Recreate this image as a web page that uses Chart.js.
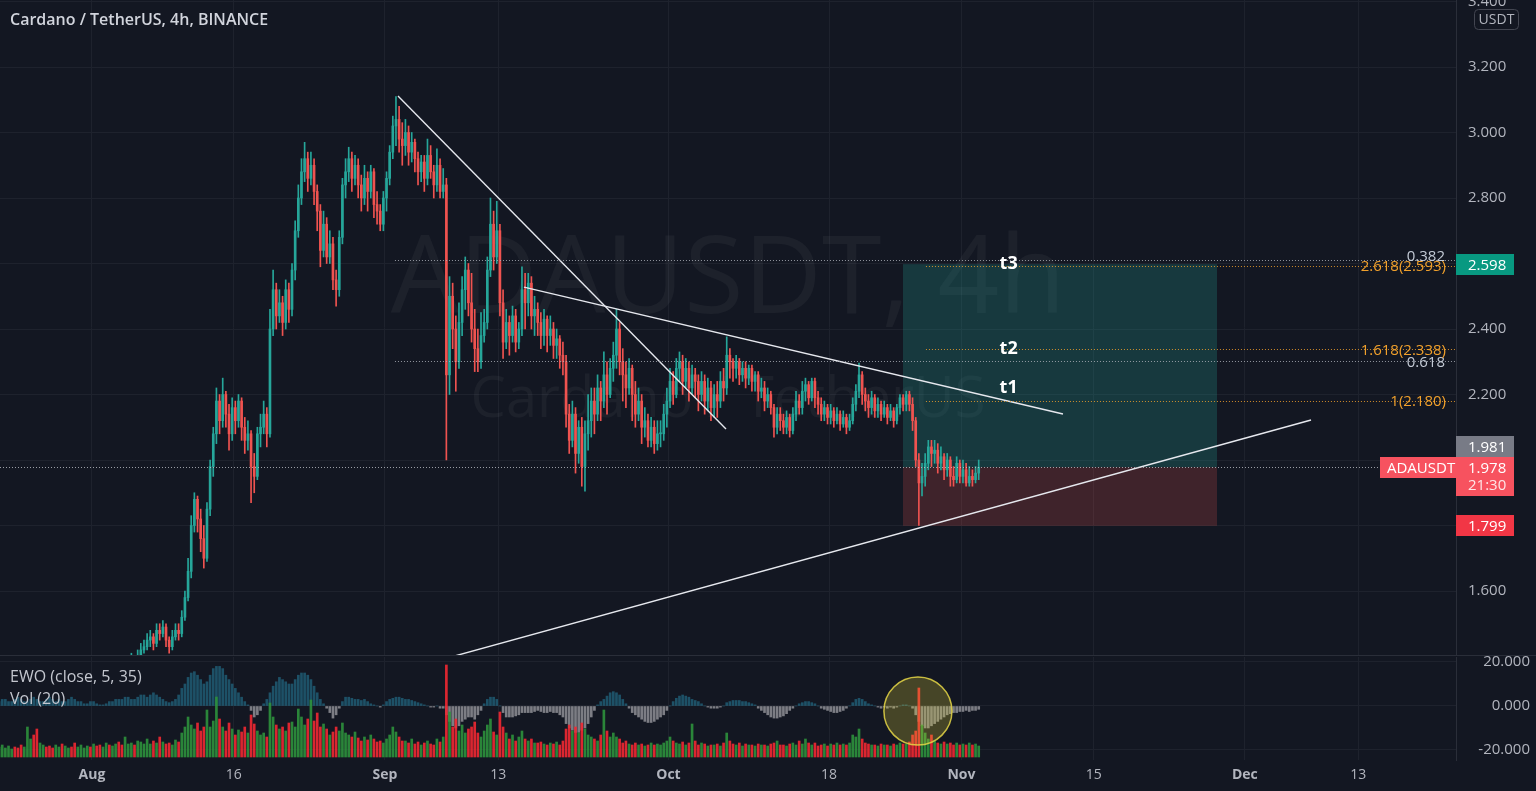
<!DOCTYPE html>
<html><head><meta charset="utf-8">
<script src="https://cdn.jsdelivr.net/npm/chart.js"></script>
<style>
html,body{margin:0;padding:0;background:#131722;width:1536px;height:791px;overflow:hidden;font-family:"Open Sans",sans-serif}
canvas{position:absolute;left:0}
#main{top:0}
#sub{top:655px}
.txt{position:absolute;white-space:nowrap;z-index:5}
#title{left:10px;top:8px;color:#d1d4dc;font:600 16px "Open Sans"}
#leg1{left:10px;top:665px;color:#c3c6ce;font:16px "Open Sans"}
#leg2{left:10px;top:687px;color:#c3c6ce;font:16px "Open Sans"}
</style></head>
<body>
<canvas id="main" width="1536" height="655"></canvas>
<canvas id="sub" width="1536" height="136"></canvas>
<div class="txt" id="title">Cardano / TetherUS, 4h, BINANCE</div>
<div class="txt" id="leg1">EWO (close, 5, 35)</div>
<div class="txt" id="leg2">Vol (20)</div>
<script>
// ---------------- DATA (days counted from Aug 1 2021 00:00, 3 bars per day) ----------------
const startDay = -10;          // Jul 22 2021
const barsPerDay = 3;
const firstOpen = 1.17;
const close = [
 1.18,1.20,1.21, 1.22,1.24,1.23, 1.22,1.21,1.24, 1.25,1.27,1.26,
 1.24,1.28,1.30, 1.29,1.27,1.26, 1.27,1.29,1.28, 1.30,1.31,1.29,
 1.28,1.30,1.31, 1.32,1.33,1.32, 1.33,1.31,1.30, 1.32,1.35,1.33,
 1.34,1.36,1.35, 1.33,1.36,1.38, 1.39,1.37,1.40, 1.42,1.43,1.45,
 1.46,1.44,1.48, 1.47,1.49,1.45, 1.43,1.46,1.48, 1.47,1.52,1.58,
 1.66,1.80,1.88, 1.82,1.76,1.70, 1.85,1.98,2.08, 2.18,2.12,2.20,
 2.14,2.08,2.16, 2.12,2.18,2.10, 2.06,2.08,1.98, 1.95,2.08,2.10,
 2.14,2.08,2.40, 2.52,2.44,2.48, 2.42,2.52,2.46, 2.58,2.70,2.80,
 2.88,2.92,2.86, 2.90,2.82,2.76, 2.64,2.72,2.62, 2.66,2.55,2.52,
 2.68,2.84,2.88, 2.92,2.86,2.90, 2.84,2.80,2.86, 2.82,2.88,2.78,
 2.76,2.72,2.80, 2.86,2.94,3.02, 3.04,2.98,2.96, 3.00,2.94,2.97,
 2.92,2.88,2.91, 2.86,2.93,2.88, 2.84,2.90,2.82, 2.84,2.26,2.50,
 2.40,2.30,2.42, 2.52,2.58,2.48, 2.40,2.34,2.30, 2.38,2.42,2.58,
 2.72,2.62,2.70, 2.48,2.36,2.42, 2.38,2.44,2.36, 2.40,2.52,2.48,
 2.54,2.44,2.46, 2.42,2.38,2.43, 2.38,2.40,2.35, 2.37,2.32,2.30,
 2.14,2.06,2.14, 2.02,2.10,1.98, 2.08,2.12,2.18, 2.14,2.22,2.18,
 2.26,2.20,2.28, 2.32,2.40,2.30, 2.26,2.22,2.28, 2.20,2.14,2.18,
 2.10,2.12,2.06, 2.10,2.05,2.08, 2.08,2.14,2.18, 2.24,2.20,2.28,
 2.30,2.24,2.28, 2.22,2.26,2.24, 2.20,2.24,2.18, 2.22,2.16,2.20,
 2.18,2.24,2.22, 2.32,2.30,2.28, 2.30,2.26,2.28, 2.25,2.28,2.24,
 2.26,2.21,2.22, 2.18,2.20,2.16, 2.10,2.14,2.12, 2.10,2.13,2.09,
 2.14,2.18,2.16, 2.21,2.23,2.19, 2.24,2.19,2.17, 2.14,2.16,2.13,
 2.15,2.12,2.14, 2.11,2.13,2.10, 2.12,2.17,2.21, 2.26,2.20,2.18,
 2.16,2.19,2.15, 2.17,2.14,2.16, 2.13,2.15,2.12, 2.16,2.19,2.17,
 2.20,2.17,2.12, 2.00,1.93,1.95, 1.99,2.04,2.02, 2.03,1.99,2.01,
 1.97,2.00,1.95, 1.94,1.99,1.95, 1.97,1.93,1.95, 1.94,1.96,1.978
];
const high = [
 1.19,1.21,1.22, 1.23,1.25,1.25, 1.24,1.23,1.25, 1.26,1.28,1.28,
 1.27,1.29,1.31, 1.31,1.30,1.28, 1.28,1.30,1.30, 1.31,1.33,1.32,
 1.30,1.31,1.33, 1.34,1.35,1.34, 1.35,1.34,1.32, 1.33,1.36,1.36,
 1.36,1.37,1.38, 1.36,1.37,1.39, 1.41,1.40,1.42, 1.44,1.45,1.47,
 1.48,1.47,1.50, 1.50,1.51,1.50, 1.46,1.48,1.50, 1.50,1.54,1.60,
 1.70,1.83,1.90, 1.89,1.85,1.80, 1.87,2.00,2.10, 2.22,2.20,2.25,
 2.21,2.17,2.19, 2.18,2.20,2.19, 2.13,2.12,2.09, 2.02,2.10,2.14,
 2.18,2.16,2.46, 2.58,2.54,2.52, 2.50,2.55,2.54, 2.60,2.73,2.84,
 2.92,2.97,2.94, 2.94,2.92,2.84, 2.78,2.76,2.74, 2.70,2.68,2.58,
 2.70,2.86,2.92, 2.955,2.94,2.93, 2.92,2.87,2.90, 2.88,2.90,2.89,
 2.82,2.78,2.82, 2.88,2.96,3.05, 3.11,3.08,3.03, 3.04,3.02,3.00,
 2.98,2.94,2.93, 2.93,2.98,2.96, 2.90,2.95,2.92, 2.89,2.86,2.56,
 2.54,2.44,2.48, 2.56,2.62,2.60, 2.57,2.46,2.40, 2.45,2.46,2.62,
 2.80,2.76,2.79, 2.72,2.52,2.46, 2.44,2.47,2.46, 2.42,2.59,2.57,
 2.57,2.56,2.50, 2.48,2.45,2.46, 2.44,2.44,2.42, 2.40,2.38,2.36,
 2.32,2.17,2.18, 2.16,2.12,2.13, 2.12,2.20,2.22, 2.22,2.26,2.24,
 2.33,2.30,2.31, 2.36,2.46,2.42, 2.34,2.30,2.31, 2.29,2.24,2.22,
 2.20,2.16,2.14, 2.13,2.12,2.12, 2.12,2.17,2.22, 2.28,2.27,2.31,
 2.33,2.32,2.31, 2.30,2.29,2.28, 2.26,2.27,2.26, 2.25,2.24,2.23,
 2.24,2.27,2.28, 2.376,2.34,2.31, 2.32,2.31,2.30, 2.30,2.29,2.29,
 2.27,2.27,2.25, 2.24,2.22,2.21, 2.17,2.16,2.16, 2.14,2.15,2.14,
 2.16,2.21,2.20, 2.24,2.25,2.24, 2.25,2.25,2.21, 2.19,2.18,2.17,
 2.17,2.16,2.16, 2.15,2.15,2.14, 2.14,2.19,2.23, 2.296,2.27,2.22,
 2.20,2.21,2.20, 2.19,2.18,2.18, 2.17,2.17,2.16, 2.17,2.20,2.20,
 2.21,2.21,2.19, 2.13,2.02,1.99, 2.02,2.06,2.06, 2.06,2.05,2.04,
 2.02,2.02,2.01, 1.98,2.01,2.00, 2.00,1.99,1.98, 1.97,1.98,2.00
];
const low = [
 1.16,1.17,1.19, 1.20,1.21,1.22, 1.21,1.20,1.20, 1.23,1.24,1.25,
 1.23,1.23,1.27, 1.28,1.26,1.25, 1.25,1.26,1.27, 1.27,1.29,1.28,
 1.27,1.27,1.29, 1.30,1.31,1.31, 1.31,1.30,1.28, 1.29,1.31,1.32,
 1.32,1.33,1.34, 1.32,1.32,1.35, 1.37,1.36,1.36, 1.39,1.41,1.42,
 1.43,1.42,1.43, 1.45,1.46,1.43, 1.41,1.42,1.45, 1.45,1.46,1.51,
 1.57,1.64,1.78, 1.78,1.72,1.67, 1.69,1.83,1.95, 2.05,2.08,2.10,
 2.10,2.03,2.06, 2.08,2.10,2.06, 2.02,2.03,1.87, 1.90,1.94,2.04,
 2.08,2.04,2.07, 2.38,2.40,2.42, 2.38,2.40,2.42, 2.44,2.55,2.68,
 2.78,2.85,2.82, 2.84,2.78,2.70, 2.59,2.62,2.60, 2.60,2.52,2.47,
 2.50,2.66,2.80, 2.85,2.82,2.84, 2.80,2.76,2.78, 2.76,2.80,2.74,
 2.72,2.70,2.70, 2.76,2.84,2.92, 2.96,2.94,2.90, 2.93,2.90,2.91,
 2.88,2.84,2.85, 2.82,2.84,2.86, 2.80,2.82,2.80, 2.80,2.00,2.20,
 2.34,2.21,2.28, 2.38,2.46,2.44, 2.36,2.27,2.27, 2.28,2.36,2.40,
 2.56,2.58,2.60, 2.44,2.31,2.34, 2.32,2.36,2.33, 2.34,2.38,2.40,
 2.44,2.40,2.38, 2.38,2.34,2.35, 2.33,2.35,2.31, 2.31,2.28,2.26,
 2.10,2.02,2.04, 1.96,1.99,1.92, 1.905,2.03,2.07, 2.08,2.12,2.12,
 2.16,2.14,2.19, 2.24,2.28,2.26, 2.18,2.16,2.20, 2.12,2.10,2.12,
 2.05,2.07,2.04, 2.04,2.02,2.03, 2.04,2.06,2.10, 2.16,2.17,2.19,
 2.24,2.20,2.22, 2.18,2.20,2.19, 2.15,2.18,2.14, 2.15,2.12,2.13,
 2.13,2.16,2.18, 2.20,2.25,2.24, 2.25,2.23,2.24, 2.22,2.23,2.21,
 2.21,2.18,2.19, 2.15,2.16,2.14, 2.07,2.08,2.09, 2.08,2.08,2.07,
 2.08,2.12,2.14, 2.14,2.18,2.17, 2.18,2.16,2.14, 2.12,2.12,2.11,
 2.11,2.10,2.11, 2.09,2.10,2.08, 2.09,2.11,2.15, 2.19,2.17,2.15,
 2.13,2.14,2.13, 2.13,2.12,2.13, 2.11,2.12,2.10, 2.11,2.14,2.15,
 2.15,2.15,2.09, 1.98,1.80,1.89, 1.92,1.97,1.98, 1.99,1.96,1.97,
 1.94,1.95,1.92, 1.92,1.93,1.93, 1.93,1.92,1.92, 1.92,1.93,1.94
];
const volume = [
 10,12,9, 11,8,10, 9,12,10, 30,18,22, 28,14,12, 10,11,9, 12,10,13, 11,9,10,
 14,10,12, 9,11,10, 13,11,12, 10,14,12, 11,13,15, 12,20,13, 14,12,16, 15,13,18,
 13,16,14, 20,15,13, 14,12,17, 15,24,30, 40,32,28, 34,26,30, 47,30,36, 60,38,30,
 26,34,28, 22,27,25, 30,24,42, 33,26,22, 24,20,54, 40,32,28, 30,26,34, 35,30,48,
 40,32,38, 57,36,44, 30,33,28, 22,25,30, 26,34,24, 22,20,25, 19,16,20, 17,22,18,
 15,16,14, 18,22,30, 25,20,16, 16,14,18, 13,15,12, 14,16,13, 12,18,15, 20,92,45,
 30,38,26, 32,24,28, 30,35,24, 20,26,32, 38,25,22, 45,30,24, 18,22,16, 20,26,18,
 16,18,14, 14,15,13, 12,14,13, 15,12,16, 28,32,26, 30,24,34, 28,22,20, 18,16,22,
 47,26,20, 24,20,18, 14,16,13, 12,14,12, 13,11,12, 14,12,13, 12,14,16, 20,16,14,
 13,15,12, 14,33,16, 12,14,13, 11,12,12, 13,11,14, 24,16,13, 12,14,11, 13,12,12,
 11,13,12, 12,11,13, 14,16,12, 12,11,13, 14,12,16, 13,18,14, 12,14,11, 12,13,11,
 13,12,14, 12,13,12, 14,22,20, 28,18,14, 13,12,12, 11,13,12, 12,11,13, 12,14,13,
 13,15,22, 26,69,32, 24,18,22, 16,14,13, 15,13,14, 12,14,12, 13,12,14, 12,13,11
];
const ewo = [
 2,3,3, 2,2,3, 4,3,2, 2,3,4, 3,2,2, 3,4,3, 2,3,2, 2,3,4,
 3,2,2, 1,1,2, 2,1,0.5, 0.5,1,2, 2,3,3, 3,4,4, 3,3,4, 5,5,4,
 5,6,5, 4,3,2, 1.5,2,3, 5,8,10, 13,15,15.6, 14,12,10, 11,14,17, 18,18,17,
 14,12,10, 8,6,4, 2,0.5,-2, -5,-4,-2, 1,3,6, 9,11,13, 12,11,10, 10,12,14,
 15,15,14, 12,9,6, 3,1,-1, -3,-5.5,-4, -1,2,4, 4,3.5,3, 3,2.5,3, 2,1,0.5,
 0,-0.5,0.5, 2,3,3.5, 4,4,3.5, 3,3,2.5, 2,1.5,1, 0.5,0,-0.5, -0.5,0,-1, -1,-4,-7,
 -9,-10,-9, -7,-6,-5, -5,-6,-4, -2,1,3, 4,4,3, 0,-3,-5, -5,-5,-4.5, -4,-3,-3,
 -3,-3,-2.5, -2,-2.5,-3, -3,-2.5,-3, -3,-4,-5, -8,-10,-11, -12,-12,-11, -10,-8,-5, -2,0.5,2,
 3,4.5,6, 6.5,6,5, 3,1,-1, -3,-4,-5, -6,-7,-7.5, -7.5,-7,-6, -5,-4,-2, 0,2,3.5,
 4.5,5,4.5, 4,3,2.5, 2,1,0, -0.5,-1,-1, -1,-0.5,0, 1.5,2,2.5, 2.5,2.5,2, 2,1.5,1,
 0.5,-1,-2, -3,-4,-5, -5.5,-5.5,-5, -4.5,-3.5,-2, -1,0,1, 1.5,2,2, 1.5,1,0, -1,-1.5,-2,
 -2.5,-3,-3, -2.5,-2,-1, 0,1.5,3, 3.5,3,2, 1,0.5,0, -0.5,-1,-0.5, -1,-0.5,-1, -0.5,0,0.5,
 0.5,0,-1, -4,-7,-9, -10,-10,-9, -8,-7,-6, -5,-4,-3.5, -3,-3,-2.5, -2.5,-2,-2.5, -2,-2,-1.5
];
// axis ticks
const dateTickDays   = [0, 15, 31, 43, 61, 78, 92, 106, 122, 134];
const dateTickLabels = ['Aug','16','Sep','13','Oct','18','Nov','15','Dec','13'];
const monthTickDays  = [0, 31, 61, 92, 122];
const priceTicks = [1.6, 1.8, 2.0, 2.2, 2.4, 2.6, 2.8, 3.0, 3.2, 3.4];
const ewoTicks = [20, 0, -20];
// visible window
const viewDays = [-9.735, 144.34];
const viewPrice = [1.4046, 3.4046];
const viewEwo = [-24.55, 22.27];
const viewVol = [-3, 100];
// drawings
const trendlines = [
  [[32.38, 3.1115], [67.09, 2.0947]],
  [[45.71, 2.528], [102.75, 2.1405]],
  [[30.0, 1.335], [129.0, 2.1221]]
];
const fibRetrStartDay = 32.06;
const fibRetrLevels = [ {label:'0.382', price:2.611}, {label:'0.618', price:2.302} ];
const fibExtStartDay = 88.25;
const fibExtLevels = [ {label:'2.618(2.593)', price:2.593}, {label:'1.618(2.338)', price:2.338}, {label:'1(2.180)', price:2.180} ];
const positionBox = {startDay:85.82, endDay:119.05, target:2.598, entry:1.978, stop:1.799};
const targetLabels = [ {text:'t3', day:97.0, price:2.600}, {text:'t2', day:97.0, price:2.339}, {text:'t1', day:97.0, price:2.221} ];
const lastPrice = 1.978, countdown = '21:30', symbol = 'ADAUSDT';
const priceTags = [ {price:2.598, bg:'#089981'}, {price:1.799, bg:'#f23645'} ];
const entryTag = {price:1.981, bg:'#787b86'};
const circleMark = {day:87.4, value:-2.3, edgeDay:91.0};
const watermark = ['ADAUSDT, 4h', 'Cardano / TetherUS'];

// ---------------- derived structures ----------------
const UP = '#26a69a', DOWN = '#ef5350';
const open = close.map((c, i) => i === 0 ? firstOpen : close[i - 1]);
const barDay = i => startDay + (i + 0.5) / barsPerDay;
const isUp = close.map((c, i) => c >= open[i]);
const candleColors = isUp.map(u => u ? UP : DOWN);
const FONT = '"Open Sans", sans-serif';
const GRID = '#1e222d';

function fixTicks(list) { return s => { s.ticks = list.map(v => ({value: v})); }; }
function fitY(w) { return s => { s.width = w; s.paddingTop = 0; s.paddingBottom = 0; }; }
function fitX(h) { return s => { s.height = h; s.paddingLeft = 0; s.paddingRight = 0; }; }

const mainOverlay = {
  id: 'mainOverlay',
  beforeDatasetsDraw(chart) {
    const {ctx, chartArea: a, scales: {x, y}} = chart;
    ctx.save();
    ctx.beginPath(); ctx.rect(a.left, a.top, a.right - a.left, a.bottom - a.top); ctx.clip();
    ctx.fillStyle = 'rgba(255,255,255,0.045)';
    ctx.textAlign = 'center'; ctx.textBaseline = 'alphabetic';
    const cx = (a.left + a.right) / 2;
    ctx.font = '108px ' + FONT; ctx.fillText(watermark[0], cx, a.top + 313);
    ctx.font = '56px ' + FONT; ctx.fillText(watermark[1], cx, a.top + 417);
    const x0 = x.getPixelForValue(positionBox.startDay), x1 = x.getPixelForValue(positionBox.endDay);
    const yT = y.getPixelForValue(positionBox.target), yE = y.getPixelForValue(positionBox.entry), yS = y.getPixelForValue(positionBox.stop);
    ctx.fillStyle = 'rgba(38,166,154,0.24)'; ctx.fillRect(x0, yT, x1 - x0, yE - yT);
    ctx.fillStyle = 'rgba(239,83,80,0.2)'; ctx.fillRect(x0, yE, x1 - x0, yS - yE);
    ctx.restore();
  },
  afterDatasetsDraw(chart) {
    const {ctx, chartArea: a, scales: {x, y}} = chart;
    ctx.save();
    ctx.beginPath(); ctx.rect(a.left, a.top, a.right - a.left, a.bottom - a.top); ctx.clip();
    ctx.lineWidth = 1; ctx.setLineDash([1, 2]);
    let yy = Math.round(y.getPixelForValue(lastPrice)) + 0.5;
    ctx.strokeStyle = 'rgba(200,203,210,0.75)';
    ctx.beginPath(); ctx.moveTo(a.left, yy); ctx.lineTo(a.right, yy); ctx.stroke();
    ctx.strokeStyle = 'rgba(178,181,190,0.8)';
    fibRetrLevels.forEach(l => {
      const yl = Math.round(y.getPixelForValue(l.price)) + 0.5;
      ctx.beginPath(); ctx.moveTo(x.getPixelForValue(fibRetrStartDay), yl); ctx.lineTo(a.right, yl); ctx.stroke();
    });
    ctx.strokeStyle = 'rgba(240,160,44,0.85)';
    fibExtLevels.forEach(l => {
      const yl = Math.round(y.getPixelForValue(l.price)) + 0.5;
      ctx.beginPath(); ctx.moveTo(x.getPixelForValue(fibExtStartDay), yl); ctx.lineTo(a.right, yl); ctx.stroke();
    });
    ctx.setLineDash([]);
    ctx.font = '15px ' + FONT; ctx.textAlign = 'right'; ctx.textBaseline = 'middle';
    ctx.fillStyle = '#c3cad5';
    fibRetrLevels.forEach(l => ctx.fillText(l.label, a.right - 11, y.getPixelForValue(l.price) - 3 + (l.label === '0.618' ? 5 : 0)));
    ctx.fillStyle = '#f0a02c';
    fibExtLevels.forEach(l => ctx.fillText(l.label, a.right - 10, y.getPixelForValue(l.price) + 1));
    ctx.font = 'bold 18px ' + FONT; ctx.textAlign = 'center'; ctx.fillStyle = '#ffffff';
    targetLabels.forEach(t => ctx.fillText(t.text, x.getPixelForValue(t.day), y.getPixelForValue(t.price)));
    ctx.restore();
  },
  afterDraw(chart) {
    const {ctx, chartArea: a, scales: {y}} = chart;
    const X = a.right, W = 58, H = 21;
    ctx.save();
    ctx.font = '15px ' + FONT; ctx.textBaseline = 'middle'; ctx.textAlign = 'left';
    const tag = (top, bg, text) => {
      ctx.fillStyle = bg; ctx.fillRect(X, top, W, H);
      ctx.fillStyle = '#ffffff'; ctx.fillText(text, X + 12, top + H / 2 + 1);
    };
    priceTags.forEach(t => tag(Math.round(y.getPixelForValue(t.price) - H / 2), t.bg, t.price.toFixed(3)));
    const curTop = Math.round(y.getPixelForValue(lastPrice) - H / 2);
    let eTop = Math.round(y.getPixelForValue(entryTag.price) - H / 2);
    if (eTop + H > curTop) eTop = curTop - H;
    tag(eTop, entryTag.bg, entryTag.price.toFixed(3));
    ctx.fillStyle = '#f7525f';
    ctx.fillRect(X, curTop, W, 39);
    ctx.fillRect(X - 76, curTop, 76, H);
    ctx.fillStyle = '#ffffff';
    ctx.fillText(lastPrice.toFixed(3), X + 12, curTop + H / 2 + 1);
    ctx.fillText(symbol, X - 69, curTop + H / 2 + 1);
    ctx.fillStyle = 'rgba(255,255,255,0.85)';
    ctx.fillText(countdown, X + 12, curTop + 29);
    ctx.fillStyle = '#131722';
    ctx.beginPath(); ctx.roundRect(X + 18.5, 9.5, 44, 20, 4); ctx.fill();
    ctx.strokeStyle = '#434651'; ctx.lineWidth = 1; ctx.stroke();
    ctx.fillStyle = '#b2b5be'; ctx.font = '14px ' + FONT; ctx.textAlign = 'center';
    ctx.fillText('USDT', X + 40.5, 20);
    ctx.restore();
  }
};

const subOverlay = {
  id: 'subOverlay',
  afterDatasetsDraw(chart) {
    const {ctx, scales: {x, y}} = chart;
    const cx = x.getPixelForValue(circleMark.day), cy = y.getPixelForValue(circleMark.value);
    const r = x.getPixelForValue(circleMark.edgeDay) - cx;
    ctx.save();
    ctx.beginPath(); ctx.arc(cx, cy, r, 0, Math.PI * 2);
    ctx.fillStyle = 'rgba(255,235,59,0.22)'; ctx.fill();
    ctx.strokeStyle = 'rgba(230,215,70,0.85)'; ctx.lineWidth = 1.5; ctx.stroke();
    ctx.restore();
  },
  afterDraw(chart) {
    const {ctx} = chart;
    ctx.save(); ctx.strokeStyle = '#2a2e39'; ctx.lineWidth = 1;
    ctx.beginPath(); ctx.moveTo(0, 0.5); ctx.lineTo(1536, 0.5); ctx.stroke();
    ctx.restore();
  }
};

Chart.defaults.font.family = FONT;
Chart.defaults.color = '#b2b5be';

new Chart(document.getElementById('main'), {
  type: 'bar',
  data: {
    datasets: [
      { label: 'wick', data: close.map((c, i) => ({x: barDay(i), y: [low[i], high[i]]})),
        backgroundColor: candleColors, barThickness: 1, grouped: false, order: 3 },
      { label: 'body', data: close.map((c, i) => ({x: barDay(i), y: [open[i], c]})),
        backgroundColor: candleColors, barThickness: 2, minBarLength: 1, grouped: false, order: 2 },
      ...trendlines.map((t, k) => ({ type: 'line', label: 'trend' + k,
        data: t.map(p => ({x: p[0], y: p[1]})), borderColor: '#e6e8ee', borderWidth: 1.4,
        pointRadius: 0, order: 0 }))
    ]
  },
  options: {
    responsive: false, animation: false,
    layout: { padding: 0, autoPadding: false },
    plugins: { legend: {display: false}, tooltip: {enabled: false} },
    scales: {
      x: { type: 'linear', min: viewDays[0], max: viewDays[1], offset: false,
           afterBuildTicks: fixTicks(dateTickDays), afterFit: fitX(0),
           ticks: {display: false}, grid: {color: GRID, drawTicks: false, offset: false},
           border: {display: false} },
      y: { type: 'linear', position: 'right', min: viewPrice[0], max: viewPrice[1],
           afterBuildTicks: fixTicks(priceTicks), afterFit: fitY(80),
           ticks: { callback: v => Number(v).toFixed(3), padding: 12, font: {size: 15}, color: '#b2b5be' },
           grid: {color: GRID, drawTicks: false}, border: {color: '#2a2e39'} }
    }
  },
  plugins: [mainOverlay]
});

new Chart(document.getElementById('sub'), {
  type: 'bar',
  data: {
    datasets: [
      { label: 'EWO', yAxisID: 'y', data: ewo.map((v, i) => ({x: barDay(i), y: v})),
        backgroundColor: ewo.map(v => v >= 0 ? 'rgba(38,130,160,0.55)' : 'rgba(160,160,165,0.75)'),
        barThickness: 2, grouped: false, order: 2 },
      { label: 'Vol', yAxisID: 'yv', data: volume.map((v, i) => ({x: barDay(i), y: v})),
        backgroundColor: isUp.map(u => u ? 'rgba(46,145,60,0.9)' : 'rgba(242,40,50,0.9)'),
        barThickness: 2, grouped: false, order: 1 }
    ]
  },
  options: {
    responsive: false, animation: false,
    layout: { padding: {top: 2, left: 0, right: 6, bottom: 0}, autoPadding: false },
    plugins: { legend: {display: false}, tooltip: {enabled: false} },
    scales: {
      x: { type: 'linear', min: viewDays[0], max: viewDays[1], offset: false,
           afterBuildTicks: fixTicks(dateTickDays), afterFit: fitX(31),
           ticks: { autoSkip: false, maxRotation: 0, padding: 7, color: '#b2b5be',
                    callback: (v, i) => dateTickLabels[i],
                    font: ctx => ({ size: 14, family: FONT,
                      weight: (ctx.tick && monthTickDays.includes(ctx.tick.value)) ? 'bold' : 'normal' }) },
           grid: {color: GRID, drawTicks: false, offset: false}, border: {display: false} },
      y: { type: 'linear', position: 'right', min: viewEwo[0], max: viewEwo[1],
           afterBuildTicks: fixTicks(ewoTicks), afterFit: fitY(74),
           ticks: { callback: v => Number(v).toFixed(3), padding: 2, crossAlign: 'far', font: {size: 15}, color: '#b2b5be' },
           grid: {color: GRID, drawTicks: false}, border: {color: '#2a2e39'} },
      yv: { type: 'linear', display: false, min: viewVol[0], max: viewVol[1] }
    }
  },
  plugins: [subOverlay]
});
</script>
</body></html>
